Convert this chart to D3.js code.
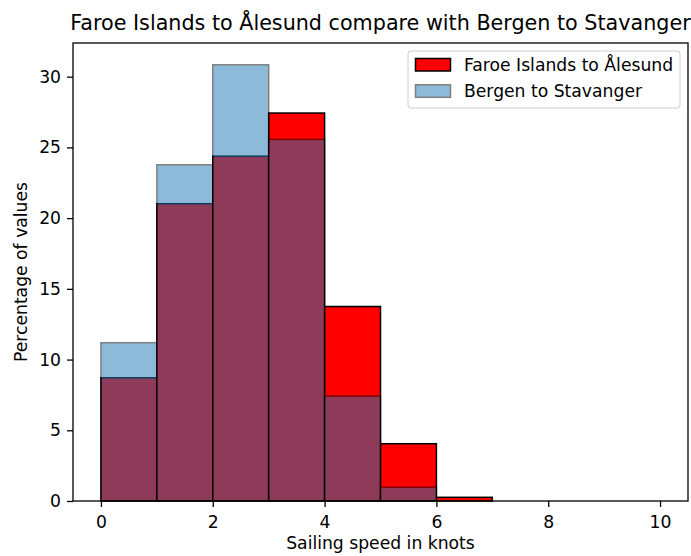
<!DOCTYPE html>
<html>
<head>
<meta charset="utf-8">
<script src="https://cdn.jsdelivr.net/npm/d3@7"></script>
<style>
  html, body { margin: 0; padding: 0; background: #fff; }
  svg { display: block; font-family: "DejaVu Sans", sans-serif; }
</style>
</head>
<body>
<svg id="chart" width="691" height="556"></svg>
<script>
// Histogram bins: sailing speed in knots, 1-knot wide bins from 0 to 10
const binEdges = [0, 1, 2, 3, 4, 5, 6, 7, 8, 9, 10];
// Percentage of values in each bin
const faroeValues  = [8.71, 21.02, 24.38, 27.43, 13.75, 4.05, 0.26, 0, 0, 0];
const bergenValues = [11.19, 23.77, 30.84, 25.57, 7.42, 0.97, 0, 0, 0, 0];
const seriesNames = ["Faroe Islands to Ålesund", "Bergen to Stavanger"];
const xTicks = [0, 2, 4, 6, 8, 10];
const yTicks = [0, 5, 10, 15, 20, 25, 30];

const svg = d3.select("#chart");
const plot = { left: 73, right: 688, top: 43, bottom: 501 };
const fontSize = "17.2px";

const xMin = d3.min(binEdges), xMax = d3.max(binEdges);
const xPad = (xMax - xMin) * 0.05;
const x = d3.scaleLinear().domain([xMin - xPad, xMax + xPad]).range([plot.left, plot.right]);
const yTop = d3.max(faroeValues.concat(bergenValues)) * 1.05;
const y = d3.scaleLinear().domain([0, yTop]).range([plot.bottom, plot.top]);

function bins(values) {
  return values.map((v, i) => ({ x0: binEdges[i], x1: binEdges[i + 1], v }));
}

// Faroe Islands bars (solid red, black edges)
svg.append("g").selectAll("rect").data(bins(faroeValues)).join("rect")
  .attr("x", d => x(d.x0))
  .attr("width", d => x(d.x1) - x(d.x0))
  .attr("y", d => y(d.v))
  .attr("height", d => y(0) - y(d.v))
  .attr("fill", "#ff0000")
  .attr("stroke", "#000")
  .attr("stroke-width", 1.5);

// Bergen bars (semi-transparent blue, drawn on top)
svg.append("g").attr("opacity", 0.5).selectAll("rect").data(bins(bergenValues)).join("rect")
  .attr("x", d => x(d.x0))
  .attr("width", d => x(d.x1) - x(d.x0))
  .attr("y", d => y(d.v))
  .attr("height", d => y(0) - y(d.v))
  .attr("fill", "#1f77b4")
  .attr("stroke", "#000")
  .attr("stroke-width", 1.5);

// Axes
const tickLen = 6, tickPad = 6;
const xAxis = svg.append("g")
  .attr("transform", `translate(0,${plot.bottom})`)
  .call(d3.axisBottom(x).tickValues(xTicks).tickSize(tickLen).tickPadding(tickPad).tickFormat(d3.format("d")));
const yAxis = svg.append("g")
  .attr("transform", `translate(${plot.left},0)`)
  .call(d3.axisLeft(y).tickValues(yTicks).tickSize(tickLen).tickPadding(tickPad).tickFormat(d3.format("d")));
[xAxis, yAxis].forEach(g => {
  g.select(".domain").remove();
  g.selectAll(".tick line").attr("stroke", "#000").attr("stroke-width", 1.3);
  g.selectAll(".tick text").attr("fill", "#000")
    .style("font-family", "DejaVu Sans").style("font-size", fontSize);
});
xAxis.selectAll(".tick text").attr("dy", null).attr("y", 27.3);

// Plot frame
svg.append("rect")
  .attr("x", plot.left).attr("y", plot.top)
  .attr("width", plot.right - plot.left).attr("height", plot.bottom - plot.top)
  .attr("fill", "none").attr("stroke", "#000").attr("stroke-width", 1.3);

// Title and axis labels
const cx = (plot.left + plot.right) / 2;
svg.append("text").attr("x", cx).attr("y", 29.5).attr("text-anchor", "middle")
  .style("font-size", "20.7px").attr("fill", "#000")
  .text("Faroe Islands to Ålesund compare with Bergen to Stavanger");
svg.append("text").attr("x", cx).attr("y", 549).attr("text-anchor", "middle")
  .style("font-size", fontSize).attr("fill", "#000")
  .text("Sailing speed in knots");
svg.append("text")
  .attr("transform", `translate(26.5,${(plot.top + plot.bottom) / 2}) rotate(-90)`)
  .attr("text-anchor", "middle")
  .style("font-size", fontSize).attr("fill", "#000")
  .text("Percentage of values");

// Legend
const legend = svg.append("g");
legend.append("rect")
  .attr("x", 408).attr("y", 51).attr("width", 272).attr("height", 57)
  .attr("rx", 3).attr("fill", "#fff").attr("fill-opacity", 0.8)
  .attr("stroke", "#ccc").attr("stroke-width", 1);
const legendItems = [
  { name: seriesNames[0], fill: "#ff0000", opacity: 1 },
  { name: seriesNames[1], fill: "#1f77b4", opacity: 0.5 }
];
legendItems.forEach((it, i) => {
  const yy = 58.5 + i * 26.3;
  legend.append("rect")
    .attr("x", 415.5).attr("y", yy).attr("width", 35).attr("height", 12.5)
    .attr("fill", it.fill).attr("stroke", "#000").attr("stroke-width", 1.5)
    .attr("opacity", it.opacity);
  legend.append("text")
    .attr("x", 464).attr("y", yy + 12.6)
    .style("font-size", fontSize).attr("fill", "#000")
    .text(it.name);
});
</script>
</body>
</html>
